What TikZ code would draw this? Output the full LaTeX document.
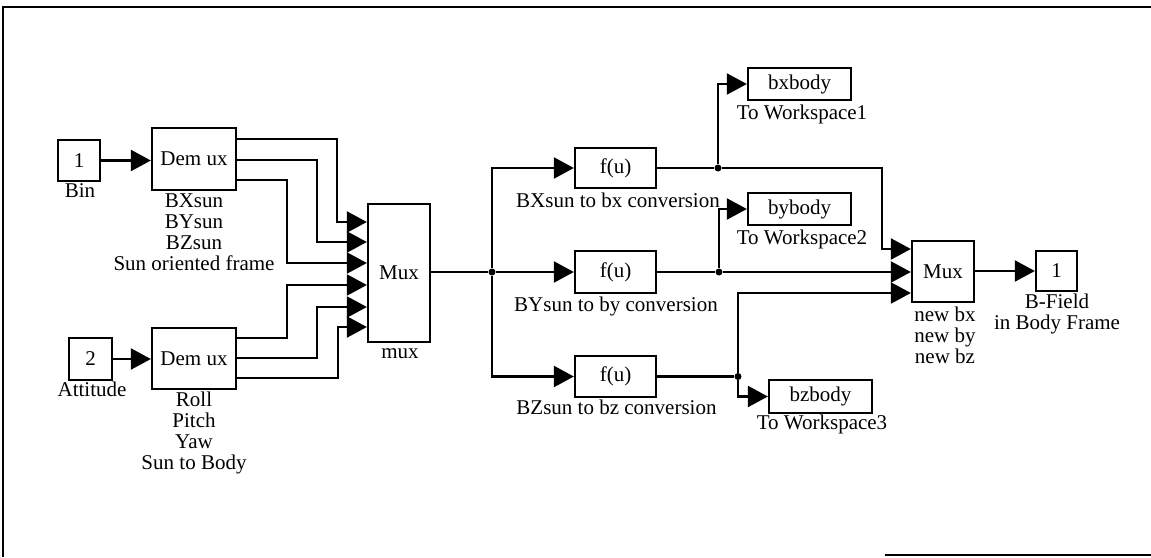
\documentclass[tikz,border=0pt]{standalone}
\usepackage{fontspec}
\setmainfont{Liberation Serif}
\usetikzlibrary{arrows.meta}
\newcommand\dfont{\fontsize{21}{21}\selectfont}
\begin{document}
\begin{tikzpicture}[x=1pt,y=-1pt,
  blk/.style={draw,line width=2.3pt,fill=white,inner sep=0pt,font=\dfont},
  wire/.style={line width=2.2pt},
  arr/.style={line width=2.2pt,-{Triangle[length=20pt,width=21pt]}},
  lbl/.style={inner sep=0pt,align=center,font=\dfont,anchor=north},
  dot/.style={circle,fill=black,inner sep=0pt,minimum size=7pt}]
\useasboundingbox (0,0) rectangle (1151,557);
% frame
\draw[line width=2.5pt] (3,557) -- (3,7) -- (1151,7);
\draw[line width=1.8pt] (885,555) -- (1151,555);
% blocks
\node[blk,minimum width=42,minimum height=41] (in1) at (79,160.5) {1};
\node[blk,minimum width=84,minimum height=62] (d1) at (194,159) {Dem ux};
\node[blk,minimum width=43,minimum height=42] (in2) at (90.5,359) {2};
\node[blk,minimum width=84,minimum height=61] (d2) at (194,358.5) {Dem ux};
\node[blk,minimum width=62,minimum height=138] (mx1) at (399,273) {Mux};
\node[blk,minimum width=81,minimum height=40] (fu1) at (615.5,168) {f(u)};
\node[blk,minimum width=81,minimum height=42] (fu2) at (615.5,272) {f(u)};
\node[blk,minimum width=81,minimum height=41] (fu3) at (615.5,376.5) {f(u)};
\node[blk,minimum width=103,minimum height=32] (bx) at (799.5,84) {bxbody};
\node[blk,minimum width=103,minimum height=32] (by) at (799.5,209) {bybody};
\node[blk,minimum width=103,minimum height=33] (bz) at (820.5,396.5) {bzbody};
\node[blk,minimum width=62,minimum height=61] (mx2) at (943,271.5) {Mux};
\node[blk,minimum width=41,minimum height=40] (out) at (1056.5,271) {1};
% junctions
\node[dot] (j1) at (492,272) {};
\node[dot] (j2) at (718,168) {};
\node[dot] (j3) at (719,272) {};
\node[dot] (j4) at (738,376.5) {};
% connectors
\draw[arr] (in1.east) -- (d1.west|-in1.east);
\draw[arr] (in2.east) -- (d2.west|-in2.east);
\draw[arr] (d1.east|-0,139) -- (337,139) -- (337,222) -- (mx1.west|-0,222);
\draw[arr] (d1.east|-0,160) -- (317,160) -- (317,242) -- (mx1.west|-0,242);
\draw[arr] (d1.east|-0,180) -- (287,180) -- (287,263) -- (mx1.west|-0,263);
\draw[arr] (d2.east|-0,338) -- (287,338) -- (287,285) -- (mx1.west|-0,285);
\draw[arr] (d2.east|-0,358) -- (317,358) -- (317,307) -- (mx1.west|-0,307);
\draw[arr] (d2.east|-0,378) -- (338,378) -- (338,327) -- (mx1.west|-0,327);
\draw[wire] (mx1.east|-j1) -- (j1);
\draw[arr] (j1) |- (fu1.west);
\draw[arr] (j1) -- (fu2.west|-j1);
\draw[arr] (j1) |- (fu3.west);
\draw[wire] (fu1.east|-j2) -- (j2);
\draw[arr] (j2) |- (bx.west);
\draw[arr] (j2) -- (882,168) -- (882,249) -- (mx2.west|-0,249);
\draw[wire] (fu2.east|-j3) -- (j3);
\draw[arr] (j3) |- (by.west);
\draw[arr] (j3) -- (mx2.west|-j3);
\draw[wire] (fu3.east|-j4) -- (j4);
\draw[arr] (j4) |- (bz.west);
\draw[arr] (j4) |- (mx2.west|-0,293);
\draw[arr] (mx2.east|-out.west) -- (out.west);
% labels
\node[lbl] (lbin) at (80,183) {Bin};
\node[lbl] (ld1) at (194,194) {BXsun\\BYsun\\BZsun\\Sun oriented frame};
\node[lbl] (lat) at (92,382) {Attitude};
\node[lbl] (ld2) at (194,392) {Roll\\Pitch\\Yaw\\Sun to Body};
\node[lbl,anchor=base] (lmx) at (400,358) {mux};
\node[lbl] (lf1) at (618,193) {BXsun to bx conversion};
\node[lbl] (lf2) at (616,297) {BYsun to by conversion};
\node[lbl] (lf3) at (616.5,400) {BZsun to bz conversion};
\node[lbl] (lw1) at (802,105) {To Workspace1};
\node[lbl] (lw2) at (802,230) {To Workspace2};
\node[lbl] (lw3) at (822,415) {To Workspace3};
\node[lbl] (lmx2) at (945,307) {new bx\\new by\\new bz};
\node[lbl] (lout) at (1057,294) {B-Field\\in Body Frame};
\end{tikzpicture}
\end{document}
